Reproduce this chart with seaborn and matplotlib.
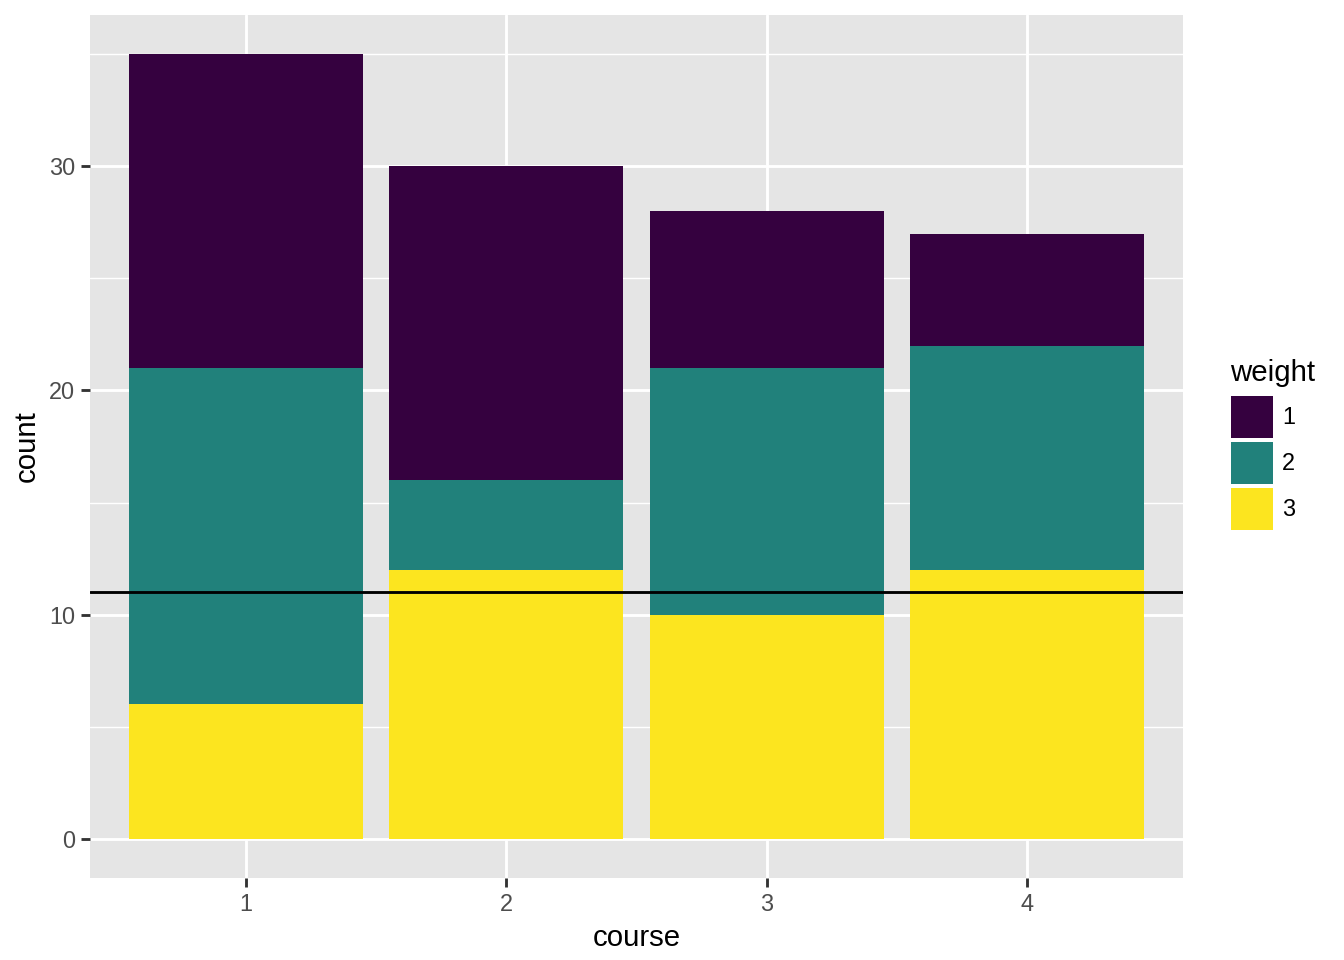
import pandas as pd
import seaborn as sns
import matplotlib.pyplot as plt
from matplotlib.patches import Rectangle

# data
courses = ["1", "2", "3", "4"]
weight_1 = [14, 14, 7, 5]
weight_2 = [15, 4, 11, 10]
weight_3 = [6, 12, 10, 12]
hline_value = 11

colors = {"1": "#35013F", "2": "#21817B", "3": "#FCE51F"}

df = pd.DataFrame({"course": courses, "w1": weight_1, "w2": weight_2, "w3": weight_3})
df["top"] = df["w1"] + df["w2"] + df["w3"]
df["mid"] = df["w2"] + df["w3"]
df["bottom"] = df["w3"]

sns.set_theme(style="darkgrid")
plt.rcParams["font.family"] = ["Liberation Sans", "DejaVu Sans"]

fig = plt.figure(figsize=(7, 5), dpi=192)
ax = fig.add_axes([90 / 1344, 82 / 960, (1183 - 90) / 1344, (878 - 15) / 960])
ax.set_facecolor("#E5E5E5")

# stacked bars: draw cumulative totals from top layer down
for col, key in [("top", "1"), ("mid", "2"), ("bottom", "3")]:
    sns.barplot(data=df, x="course", y=col, order=courses, color=colors[key],
                saturation=1, width=0.9, linewidth=0, ax=ax, zorder=2)

ax.axhline(hline_value, color="black", linewidth=1.07, zorder=3)

ax.set_xlim(-0.6, 3.6)
ax.set_ylim(-1.75, 36.75)
ax.set_yticks([0, 10, 20, 30])
ax.set_yticks([5, 15, 25, 35], minor=True)
ax.grid(which="major", color="white", linewidth=1.07)
ax.grid(which="minor", axis="y", color="white", linewidth=0.53)
ax.set_axisbelow(True)
for s in ax.spines.values():
    s.set_visible(False)

ax.tick_params(axis="both", which="major", bottom=True, left=True, length=3.5,
               width=1.07, color="#333333", labelsize=8.8, labelcolor="#4D4D4D", pad=2.2)
ax.tick_params(axis="both", which="minor", length=0)
ax.set_xlabel("course", fontsize=11, color="black", labelpad=3)
ax.set_ylabel("count", fontsize=11, color="black", labelpad=3)

# legend
fig.text(1230 / 1344, 1 - 373 / 960, "weight", fontsize=11, color="black",
         ha="left", va="center")
key_tops = [396, 442, 488]
for key, top in zip(["1", "2", "3"], key_tops):
    fig.add_artist(Rectangle((1231 / 1344, 1 - (top + 42) / 960), 42 / 1344, 42 / 960,
                             transform=fig.transFigure, facecolor=colors[key],
                             edgecolor="none"))
    fig.text(1282 / 1344, 1 - (top + 21) / 960, key, fontsize=8.8, color="black",
             ha="left", va="center")

fig.savefig("out.png", dpi=192, facecolor="white")
